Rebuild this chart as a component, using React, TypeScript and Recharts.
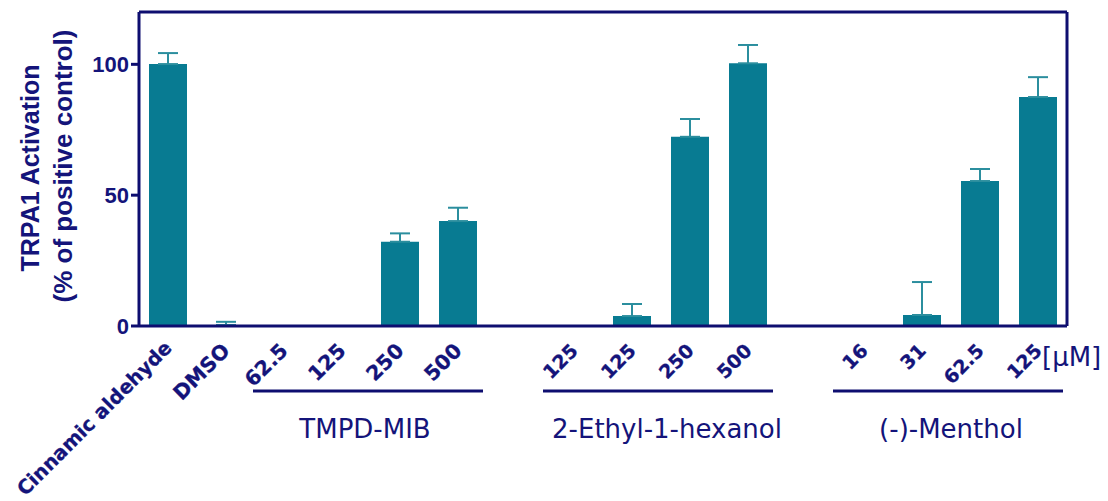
import React from 'react';
import { BarChart, Bar, XAxis, YAxis, ErrorBar } from 'recharts';

// ---- data ----
const categories = ['Cinnamic aldehyde', 'DMSO', '62.5', '125', '250', '500', '', '125', '125', '250', '500', '', '16', '31', '62.5', '125'];
const activation = [100.1, 0.4, 0, 0, 32.2, 40.1, null, 0, 3.8, 72.3, 100.4, null, 0, 4.2, 55.4, 87.5];
const errorUp = [4.2, 1.2, null, null, 3.2, 5.1, null, null, 4.6, 6.8, 7.0, null, null, 12.6, 4.6, 7.6];
const yTicks = [0, 50, 100];
const groupNames = ['TMPD-MIB', '2-Ethyl-1-hexanol', '(-)-Menthol'];
const groupFirst = [2, 7, 12];
const groupLast = [5, 10, 15];
const unitLabel = '[\u03bcM]';
const yLabelLines = ['TRPA1 Activation', '(% of positive control)'];

const keys = categories.map((_, i) => 'k' + i);
const data = categories.map((c, i) => ({
  key: keys[i],
  label: c,
  value: activation[i],
  err: errorUp[i] == null ? null : [0, errorUp[i]],
}));

// ---- styles ----
const W = 1108;
const H = 501;
const NAVY = '#14147a';
const AXIS = '#0e0e70';
const TEAL = '#087b92';
const ERR = '#2b8e9e';
const BOLD = '"Liberation Sans", Arial, sans-serif';
const TICKFONT = '"DejaVu Sans", Verdana, sans-serif';
const REG = '"DejaVu Sans", Verdana, sans-serif';
const BAND = 928 / 16;
const AXIS_Y = 326;
const groupShift = [-6, 6, 0];

const XTick = (props: any) => {
  const { x, payload } = props;
  const i = keys.indexOf(payload.value);
  if (i < 0) return null;
  const label = categories[i];
  const fs = i === 0 ? 19.6 : i < 7 ? 20.5 : 19;
  const g = groupFirst.indexOf(i);
  return (
    <g>
      {label !== '' && (
        <text
          transform={`translate(${x + 5},${AXIS_Y + (i === 0 ? 23 : 26)}) rotate(-45)`}
          textAnchor="end"
          fontFamily={TICKFONT}
          fontWeight="bold"
          fontSize={fs}
          fill={NAVY}
          stroke={NAVY}
          strokeWidth={0.3}
        >
          {label}
        </text>
      )}
      {g >= 0 && (
        <g>
          <line
            x1={x - 31}
            x2={x + (groupLast[g] - groupFirst[g]) * BAND + 25}
            y1={391}
            y2={391}
            stroke={AXIS}
            strokeWidth={3}
          />
          <text
            x={x + ((groupLast[g] - groupFirst[g]) * BAND) / 2 + groupShift[g]}
            y={438}
            textAnchor="middle"
            fontFamily={REG}
            fontSize={26}
            fill={NAVY}
          >
            {groupNames[g]}
          </text>
        </g>
      )}
      {i === categories.length - 1 && (
        <text x={x + 4} y={366} textAnchor="start" fontFamily={REG} fontSize={26} fill={NAVY}>
          {unitLabel}
        </text>
      )}
    </g>
  );
};

const YLabel = () => (
  <g>
    <text
      transform="translate(39,168) rotate(-90)"
      textAnchor="middle"
      fontFamily={BOLD}
      fontWeight="bold"
      fontSize={25}
      fill={NAVY}
    >
      {yLabelLines[0]}
    </text>
    <text
      transform="translate(72,166) rotate(-90)"
      textAnchor="middle"
      fontFamily={BOLD}
      fontWeight="bold"
      fontSize={26}
      fill={NAVY}
    >
      {yLabelLines[1]}
    </text>
  </g>
);

export default function App() {
  return (
    <div style={{ position: 'absolute', left: 0, top: 0, background: '#fff' }}>
      <BarChart
        width={W}
        height={H}
        data={data}
        margin={{ top: 10, right: 39, bottom: 0, left: 0 }}
        barSize={38}
      >
        <XAxis
          dataKey="key"
          type="category"
          interval={0}
          tick={<XTick />}
          tickLine={false}
          tickSize={0}
          tickMargin={0}
          height={175}
          axisLine={{ stroke: AXIS, strokeWidth: 3 }}
        />
        <XAxis
          xAxisId="top"
          dataKey="key"
          orientation="top"
          height={2}
          tick={false}
          tickLine={false}
          axisLine={{ stroke: AXIS, strokeWidth: 3 }}
        />
        <YAxis
          domain={[0, 120]}
          ticks={yTicks}
          width={139}
          tickSize={8}
          tickMargin={2}
          tickLine={{ stroke: AXIS, strokeWidth: 3 }}
          axisLine={{ stroke: AXIS, strokeWidth: 3 }}
          tick={{ fill: NAVY, fontFamily: BOLD, fontWeight: 'bold', fontSize: 22 }}
          label={{ content: () => <YLabel /> }}
        />
        <YAxis
          yAxisId="right"
          orientation="right"
          width={2}
          domain={[0, 120]}
          tick={false}
          tickLine={false}
          axisLine={{ stroke: AXIS, strokeWidth: 3 }}
        />
        <Bar dataKey="value" fill={TEAL} isAnimationActive={false}>
          <ErrorBar dataKey="err" width={10} stroke={ERR} strokeWidth={2} isAnimationActive={false} />
        </Bar>
      </BarChart>
    </div>
  );
}
